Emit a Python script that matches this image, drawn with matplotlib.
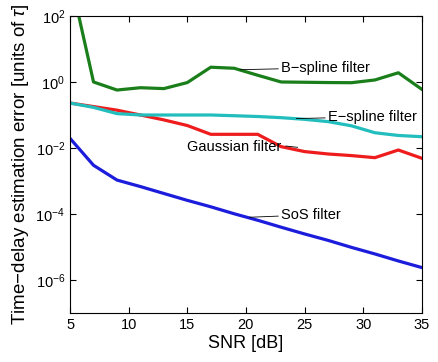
import matplotlib
matplotlib.use("Agg")
import matplotlib.pyplot as plt
from matplotlib.ticker import NullLocator

plt.rcParams['font.family'] = ['Liberation Sans', 'DejaVu Sans']
plt.rcParams['mathtext.fontset'] = 'custom'
plt.rcParams['mathtext.rm'] = 'Liberation Sans'
plt.rcParams['mathtext.it'] = 'Liberation Sans:italic'
plt.rcParams['mathtext.bf'] = 'Liberation Sans:bold'

snr = [5, 7, 9, 11, 13, 15, 17, 19, 21, 23, 25, 27, 29, 31, 33, 35]
bspline = [1500, 1.0, 0.57, 0.67, 0.63, 0.96, 2.8, 2.6, 1.6, 1.0, 0.98, 0.96, 0.95, 1.15, 1.9, 0.6]
espline = [0.23, 0.17, 0.11, 0.10, 0.10, 0.10, 0.10, 0.095, 0.09, 0.083, 0.074, 0.063, 0.047, 0.029, 0.024, 0.022]
gaussian = [0.23, 0.18, 0.14, 0.10, 0.071, 0.048, 0.026, 0.026, 0.026, 0.011, 0.0078, 0.0066, 0.0059, 0.0051, 0.0087, 0.0049]
sos = [0.0195, 0.003, 1.07e-3, 6.8e-4, 4.2e-4, 2.6e-4, 1.66e-4, 1.02e-4, 6.5e-5, 4.0e-5, 2.5e-5, 1.6e-5, 9.8e-6, 6.2e-6, 3.8e-6, 2.4e-6]

fig = plt.figure(figsize=(4.38, 3.62), dpi=100)
ax = fig.add_axes([0.160, 0.135, 0.803, 0.821])

lw = 2.3
ax.plot(snr, bspline, color='#1a7f1a', lw=lw)
ax.plot(snr, gaussian, color='#ee1c1c', lw=lw)
ax.plot(snr, espline, color='#22bdbd', lw=lw)
ax.plot(snr, sos, color='#1c1cdc', lw=lw)

ax.set_yscale('log')
ax.set_xlim(5, 35)
ax.set_ylim(1e-7, 1e2)
ax.set_xticks([5, 10, 15, 20, 25, 30, 35])
ax.set_yticks([1e-6, 1e-4, 1e-2, 1e0, 1e2])
ax.yaxis.set_minor_locator(NullLocator())
ax.tick_params(direction='in', top=True, right=True, labelsize=10.5, length=4)

ax.set_xlabel('SNR [dB]', fontsize=13, labelpad=2)
ax.set_ylabel(r'Time$-$delay estimation error [units of $\tau$]', fontsize=13.5, labelpad=3)

kw = dict(fontsize=10.5, va='center', ha='left',
          arrowprops=dict(arrowstyle='-', color='black', lw=0.6, shrinkA=0, shrinkB=0))
ax.annotate('B\u2212spline filter', xy=(19.5, 2.35), xytext=(23.0, 2.7), **kw)
ax.annotate('E\u2212spline filter', xy=(24.3, 0.078), xytext=(27.0, 0.088), **kw)
ax.annotate('Gaussian filter', xy=(25.5, 0.0105), xytext=(15.0, 0.011), fontsize=10.5, va='center', ha='left')
ax.plot([23.4, 24.4], [0.0115, 0.0105], color='black', lw=0.6)
ax.annotate('SoS filter', xy=(20.3, 8.0e-5), xytext=(23.0, 9.5e-5), **kw)

fig.savefig('out.png', dpi=100)
